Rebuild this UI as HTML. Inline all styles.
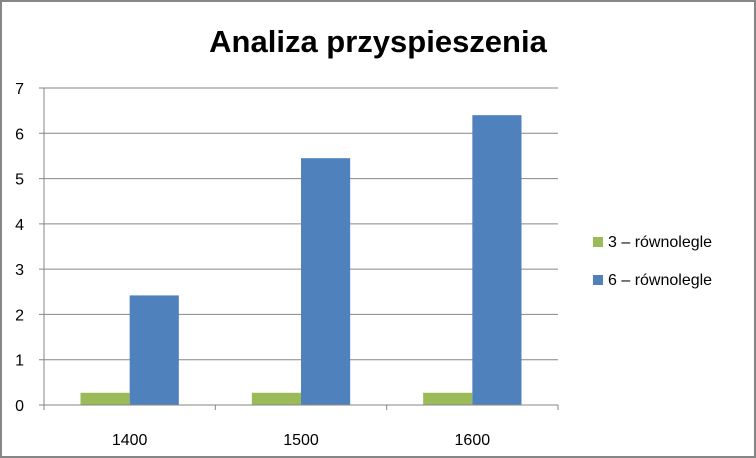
<!DOCTYPE html>
<html><head><style>
body{margin:0;background:#fff}
svg{display:block;font-family:"Liberation Sans",sans-serif}
</style></head><body>
<svg width="756" height="458">
<rect x="1" y="1" width="754" height="456" fill="#fff" stroke="#868686" stroke-width="2"/>
<text x="378" y="52" text-anchor="middle" font-size="31" font-weight="bold">Analiza przyspieszenia</text>
<g id="plot"></g>
<g>
<rect x="593" y="237" width="10" height="10" fill="#9bbb59"/>
<text x="608" y="247" font-size="16">3 – równolegle</text>
<rect x="593" y="275" width="10" height="10" fill="#4f81bd"/>
<text x="608" y="285" font-size="16">6 – równolegle</text>
</g>
</svg>
<script>
const categories=["1400","1500","1600"];
const series3=[0.27,0.27,0.27];
const series6=[2.42,5.45,6.4];
const yTicks=[0,1,2,3,4,5,6,7];
const NS="http://www.w3.org/2000/svg";
const g=document.getElementById('plot');
const x0=44,x1=558,y0=405,y1=88,ymax=7;
const y=v=>y0-(v/ymax)*(y0-y1);
const cw=(x1-x0)/categories.length;
function mk(t,a){const e=document.createElementNS(NS,t);for(const k in a)e.setAttribute(k,a[k]);g.appendChild(e);return e;}
yTicks.forEach(v=>{
 const l=mk('line',{x1:x0-5,x2:x1,y1:y(v),y2:y(v),stroke:'#868686','stroke-width':1});
 
 
 const t=mk('text',{x:24,y:y(v)+6,'font-size':16,'text-anchor':'end'});t.textContent=v;
 
 
});
const ax=mk('line',{x1:x0,x2:x0,y1:y1,y2:y0+5,stroke:'#868686'});


categories.forEach((c,i)=>{
 const cx=x0+cw*i;
 const tk=mk('line',{x1:cx+cw,x2:cx+cw,y1:y0,y2:y0+5,stroke:'#868686'});
 
 
 const bw=cw*0.287, gx=cx+cw/2-bw;
 const b3=mk('rect',{x:gx,y:y(series3[i]),width:bw,height:y0-y(series3[i]),fill:'#9bbb59'});
 
 
 const b6=mk('rect',{x:gx+bw,y:y(series6[i]),width:bw,height:y0-y(series6[i]),fill:'#4f81bd'});
 
 
 const t=mk('text',{x:cx+cw/2,y:445,'font-size':16,'text-anchor':'middle'});t.textContent=c;
 
 
});
const xa=mk('line',{x1:x0,x2:x1,y1:y0,y2:y0,stroke:'#868686'});


</script>
</body></html>
